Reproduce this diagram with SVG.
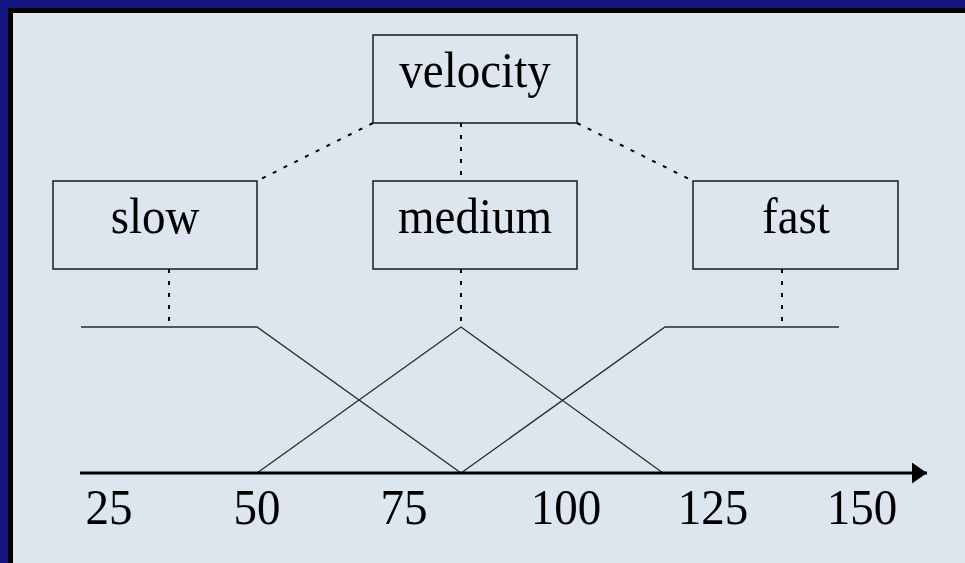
<svg xmlns="http://www.w3.org/2000/svg" width="965" height="563" viewBox="0 0 965 563">
<style>
.box{fill:none;stroke:#1a1a1a;stroke-width:1.5}
.lbl{font-family:"Liberation Serif","Times New Roman",serif;font-size:47px;fill:#000}
.dot{fill:none;stroke:#000;stroke-width:2;stroke-dasharray:4 8}
.mf{fill:none;stroke:#2a2a2a;stroke-width:1.3}
</style>
<defs>
<marker id="arr" markerWidth="15" markerHeight="21" refX="15" refY="10.5" orient="auto" markerUnits="userSpaceOnUse">
<path d="M0,0 L15,10.5 L0,21 Z" fill="#000"/>
</marker>
</defs>
<rect x="0" y="0" width="965" height="563" fill="#15167f"/>
<rect x="8" y="8" width="957" height="555" fill="#000"/>
<rect x="13" y="13" width="952" height="550" fill="#dde6ef"/>

<g id="connectors">
<line class="dot" x1="373" y1="123" x2="257" y2="181"/>
<line class="dot" x1="461" y1="123" x2="461" y2="181"/>
<line class="dot" x1="577" y1="123" x2="693" y2="181"/>
<line class="dot" x1="169" y1="269" x2="169" y2="324"/>
<line class="dot" x1="461" y1="269" x2="461" y2="324"/>
<line class="dot" x1="782" y1="269" x2="782" y2="324"/>
</g>

<g id="velocity">
<rect class="box" x="373" y="35" width="204" height="88"/>
<text class="lbl" text-anchor="middle" transform="translate(475,87) scale(1,1.07)">velocity</text>
</g>
<g id="slow">
<rect class="box" x="53" y="181" width="204" height="88"/>
<text class="lbl" text-anchor="middle" transform="translate(155,233) scale(1,1.07)">slow</text>
</g>
<g id="medium">
<rect class="box" x="373" y="181" width="204" height="88"/>
<text class="lbl" text-anchor="middle" transform="translate(475,233) scale(1,1.07)">medium</text>
</g>
<g id="fast">
<rect class="box" x="693" y="181" width="205" height="88"/>
<text class="lbl" text-anchor="middle" transform="translate(796,233) scale(1,1.07)">fast</text>
</g>

<g id="membership">
<polyline class="mf" points="81,327 257,327 461,473"/>
<polyline class="mf" points="257,473 461,327 663,473"/>
<polyline class="mf" points="461,473 665,327 839,327"/>
</g>

<g id="axis">
<line x1="80" y1="473" x2="927" y2="473" stroke="#000" stroke-width="3" marker-end="url(#arr)"/>
<text class="lbl" text-anchor="middle" transform="translate(109,524) scale(1,1.07)">25</text>
<text class="lbl" text-anchor="middle" transform="translate(257,524) scale(1,1.07)">50</text>
<text class="lbl" text-anchor="middle" transform="translate(404,524) scale(1,1.07)">75</text>
<text class="lbl" text-anchor="middle" transform="translate(566,524) scale(1,1.07)">100</text>
<text class="lbl" text-anchor="middle" transform="translate(713,524) scale(1,1.07)">125</text>
<text class="lbl" text-anchor="middle" transform="translate(862,524) scale(1,1.07)">150</text>
</g>
</svg>
